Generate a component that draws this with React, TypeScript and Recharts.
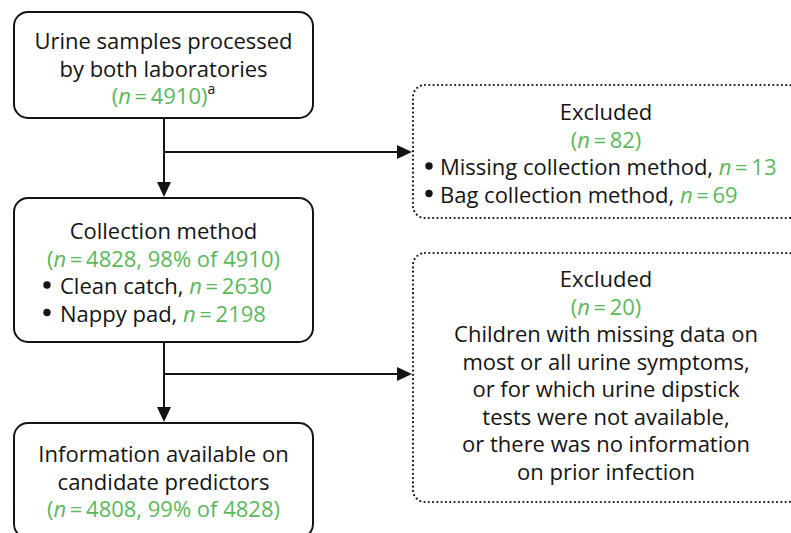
import React from "react";
import { ComposedChart, XAxis, YAxis, ReferenceArea, ReferenceLine } from "recharts";

// flow chart content
const stageLabels = [
    ["Urine samples processed", "by both laboratories"],
    ["Collection method"],
    ["Information available on", "candidate predictors"],
];
const stageCounts = [4910, 4828, 4808];
const stagePercents = [null, 98, 99];
const methodLabels = ["Clean catch", "Nappy pad"];
const methodCounts = [2630, 2198];
const excludedCounts = [82, 20];
const firstExclusionReasons = ["Missing collection method", "Bag collection method"];
const firstExclusionCounts = [13, 69];
const secondExclusionText = [
    "Children with missing data on",
    "most or all urine symptoms,",
    "or for which urine dipstick",
    "tests were not available,",
    "or there was no information",
    "on prior infection",
];

const W = 791;
const H = 533;
const GREEN = "#5cb85c";
const INK = "#141414";
const FONT = "'Open Sans', sans-serif";
const FS = 22;

type Seg = { t: string; green?: boolean; italic?: boolean; sup?: boolean };
type Line = Seg[];

const nSegs = (v: number | string, open = "", close = ""): Seg[] => [
    { t: open, green: true },
    { t: "n", green: true, italic: true },
    { t: "\u2009=\u2009" + v + close, green: true },
];

const stageLines = (i: number): Line[] => {
    const lines: Line[] = stageLabels[i].map((t) => [{ t }]);
    const pct = stagePercents[i];
    const ref = i > 0 ? stageCounts[i - 1] : null;
    const inner = pct != null ? `${stageCounts[i]}, ${pct}% of ${ref}` : `${stageCounts[i]}`;
    const count = nSegs(inner, "(", ")");
    if (i === 0) count.push({ t: "a", sup: true });
    lines.push(count);
    return lines;
};

// layout in axis units (domain equals pixel size)
const mainBoxes = [
    { x1: 14, x2: 313, y1: 12, y2: 118, first: 28 },
    { x1: 14, x2: 313, y1: 198, y2: 342, first: 32 },
    { x1: 14, x2: 313, y1: 423, y2: 538, first: 30 },
];
const sideBoxes = [
    { x1: 413, x2: 800, y1: 85, y2: 218, first: 26 },
    { x1: 413, x2: 800, y1: 253, y2: 502, first: 25 },
];
const spineX = 164;
const branchY = [152, 374];

function renderLine(line: Line, x: number, y: number, anchor: "middle" | "start", key: number) {
    return (
        <text
            key={key}
            x={x}
            y={y}
            textAnchor={anchor}
            dominantBaseline="central"
            fontFamily={FONT}
            fontSize={FS}
            fill={INK}
        >
            {line.map((s, j) => (
                <tspan
                    key={j}
                    fill={s.green ? GREEN : INK}
                    fontStyle={s.italic ? "italic" : "normal"}
                    fontSize={s.sup ? 14 : FS}
                    dy={s.sup ? -7 : undefined}
                >
                    {s.t}
                </tspan>
            ))}
        </text>
    );
}

function makeShape(lines: { line: Line; bullet?: boolean }[], first: number, dotted: boolean) {
    return (p: any) => {
        const { x, y, width, height } = p;
        const cx = dotted ? 606 : x + width / 2;
        const bulletX = x + (dotted ? 16 : 33);
        const textX = x + (dotted ? 27 : 46);
        return (
            <g>
                <rect
                    x={x}
                    y={y}
                    width={width}
                    height={height}
                    rx={dotted ? 12 : 14}
                    ry={dotted ? 12 : 14}
                    fill="#fff"
                    stroke={INK}
                    strokeWidth={dotted ? 2.2 : 2}
                    strokeDasharray={dotted ? "0 4.3" : undefined}
                    strokeLinecap={dotted ? "round" : "butt"}
                />
                {lines.map((l, i) => {
                    const ly = y + first + i * 27.5;
                    if (!l.bullet) return renderLine(l.line, cx, ly, "middle", i);
                    return (
                        <g key={i}>
                            <circle cx={bulletX} cy={ly} r={3.7} fill={INK} />
                            {renderLine(l.line, textX, ly, "start", i)}
                        </g>
                    );
                })}
            </g>
        );
    };
}

function arrowShape(p: any) {
    const { x1, y1, x2, y2 } = p;
    const dx = x2 - x1;
    const dy = y2 - y1;
    const len = Math.hypot(dx, dy) || 1;
    const ux = dx / len;
    const uy = dy / len;
    const hl = 15;
    const hw = 7;
    const bx = x2 - ux * hl;
    const by = y2 - uy * hl;
    const pts = `${x2},${y2} ${bx - uy * hw},${by + ux * hw} ${bx + uy * hw},${by - ux * hw}`;
    return (
        <g>
            <line x1={x1} y1={y1} x2={bx} y2={by} stroke={INK} strokeWidth={2} />
            <polygon points={pts} fill={INK} />
        </g>
    );
}

export default function App() {
    const mainContent = [0, 1, 2].map((i) => {
        const ls: { line: Line; bullet?: boolean }[] = stageLines(i).map((line) => ({ line }));
        if (i === 1) {
            methodLabels.forEach((m, k) =>
                ls.push({ line: [{ t: `${m}, ` }, ...nSegs(methodCounts[k])], bullet: true })
            );
        }
        return ls;
    });
    const side1 = [
        { line: [{ t: "Excluded" }] as Line },
        { line: nSegs(excludedCounts[0], "(", ")") },
        ...firstExclusionReasons.map((r, k) => ({
            line: [{ t: `${r}, ` }, ...nSegs(firstExclusionCounts[k])],
            bullet: true,
        })),
    ];
    const side2 = [
        { line: [{ t: "Excluded" }] as Line },
        { line: nSegs(excludedCounts[1], "(", ")") },
        ...secondExclusionText.map((t) => ({ line: [{ t }] as Line })),
    ];
    const sideContent = [side1, side2];

    return (
        <div style={{ position: "absolute", left: 0, top: 0, background: "#fff" }}>
            <ComposedChart width={W} height={H} data={[]} margin={{ top: 0, right: 0, bottom: 0, left: 0 }}>
                <XAxis type="number" dataKey="x" domain={[0, W]} hide allowDataOverflow />
                <YAxis type="number" dataKey="y" domain={[0, H]} reversed hide allowDataOverflow />
                {/* connectors */}
                <ReferenceLine
                    segment={[{ x: spineX, y: mainBoxes[0].y2 }, { x: spineX, y: mainBoxes[1].y1 - 1 }]}
                    shape={arrowShape}
                    ifOverflow="visible"
                />
                <ReferenceLine
                    segment={[{ x: spineX, y: mainBoxes[1].y2 }, { x: spineX, y: mainBoxes[2].y1 - 1 }]}
                    shape={arrowShape}
                    ifOverflow="visible"
                />
                {branchY.map((by, i) => (
                    <ReferenceLine
                        key={`b${i}`}
                        segment={[{ x: spineX, y: by }, { x: sideBoxes[i].x1 - 1, y: by }]}
                        shape={arrowShape}
                        ifOverflow="visible"
                    />
                ))}
                {mainBoxes.map((b, i) => (
                    <ReferenceArea
                        key={`m${i}`}
                        x1={b.x1}
                        x2={b.x2}
                        y1={b.y1}
                        y2={b.y2}
                        ifOverflow="visible"
                        shape={makeShape(mainContent[i], b.first, false)}
                    />
                ))}
                {sideBoxes.map((b, i) => (
                    <ReferenceArea
                        key={`s${i}`}
                        x1={b.x1}
                        x2={b.x2}
                        y1={b.y1}
                        y2={b.y2}
                        ifOverflow="visible"
                        shape={makeShape(sideContent[i], b.first, true)}
                    />
                ))}
            </ComposedChart>
        </div>
    );
}
